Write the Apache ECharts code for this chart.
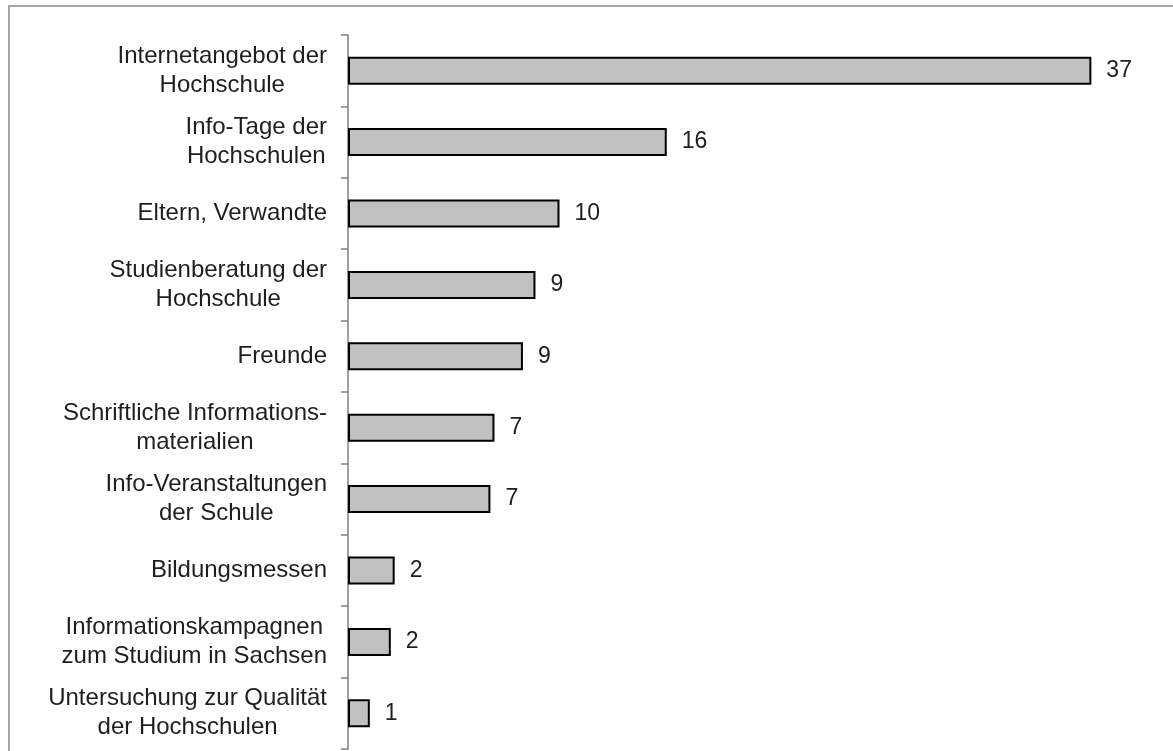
<!DOCTYPE html>
<html>
<head>
<meta charset="utf-8">
<script src="https://cdn.jsdelivr.net/npm/echarts@6/dist/echarts.min.js"></script>
<style>
html,body{margin:0;padding:0;background:#fff;}
#chart{width:1173px;height:751px;}
</style>
</head>
<body>
<div id="chart"></div>
<script>
const categories = [
  "Internetangebot der\nHochschule",
  "Info-Tage der\nHochschulen",
  "Eltern, Verwandte",
  "Studienberatung der\nHochschule",
  "Freunde",
  "Schriftliche Informations-\nmaterialien",
  "Info-Veranstaltungen\nder Schule",
  "Bildungsmessen",
  "Informationskampagnen\nzum Studium in Sachsen",
  "Untersuchung zur Qualität\nder Hochschulen"
];
const values = [36.8, 15.78, 10.47, 9.28, 8.66, 7.25, 7.05, 2.31, 2.12, 1.08];
const shownLabels = [37, 16, 10, 9, 9, 7, 7, 2, 2, 1];

const FONT = '"Liberation Sans", Arial, sans-serif';
const chart = echarts.init(document.getElementById('chart'));
chart.setOption({
  animation: false,
  backgroundColor: '#fff',
  graphic: [{
    type: 'rect',
    shape: {x: 9, y: 6, width: 1300, height: 900},
    style: {fill: 'none', stroke: '#8a8a8a', lineWidth: 1.5},
    silent: true
  }],
  grid: {left: 348, top: 35, width: 808, height: 714, containLabel: false},
  xAxis: {
    type: 'value', min: 0, max: 40, show: false
  },
  yAxis: {
    type: 'category',
    data: categories,
    inverse: true,
    axisLine: {show: true, lineStyle: {color: '#808080', width: 1.5}},
    axisTick: {show: true, length: 7, lineStyle: {color: '#808080', width: 1.5}},
    axisLabel: {
      margin: 21,
      align: 'right',
      formatter: function (v) {
        return v.split('\n').map(function (l) { return '{c|' + l + '}'; }).join('\n');
      },
      rich: {
        c: {align: 'center', fontSize: 24, lineHeight: 29, color: '#1e1e1e', fontFamily: FONT}
      }
    },
    splitLine: {show: false}
  },
  series: [{
    type: 'bar',
    data: values,
    barWidth: 28,
    itemStyle: {color: '#c0c0c0', borderColor: '#000', borderWidth: 2},
    label: {
      show: true,
      position: 'right',
      distance: 15,
      color: '#1e1e1e',
      fontSize: 23,
      fontFamily: FONT,
      formatter: function (p) { return String(shownLabels[p.dataIndex]); }
    }
  }]
});
</script>
</body>
</html>
